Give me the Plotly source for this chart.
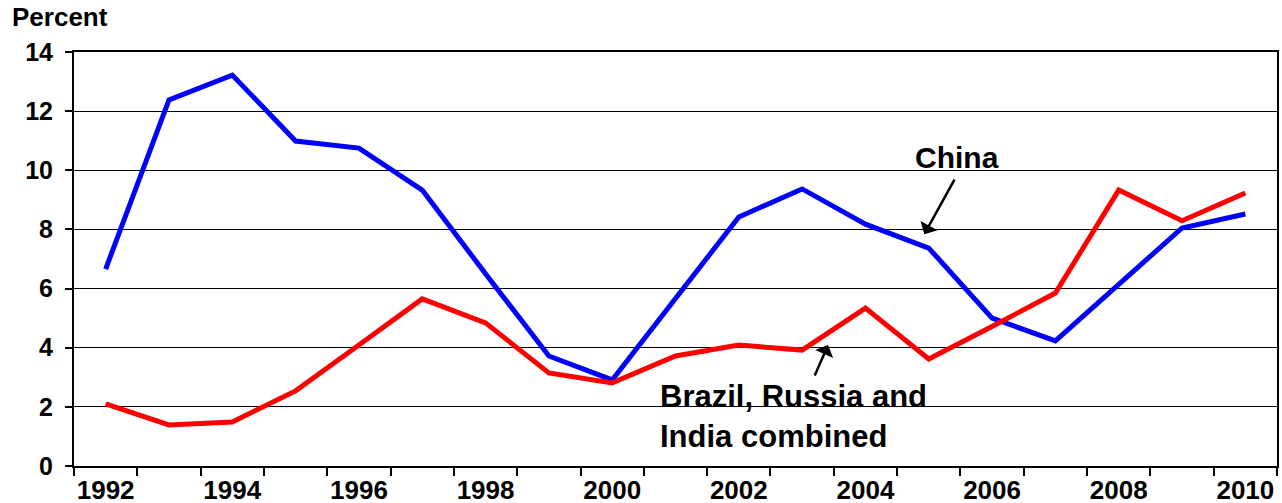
import plotly.graph_objects as go

years = list(range(1992, 2011))
china = [6.66, 12.38, 13.22, 10.99, 10.75, 9.33, 6.5, 3.72, 2.91, 5.66, 8.42, 9.37, 8.18, 7.37, 5.0, 4.23, 6.15, 8.05, 8.52]
bri = [2.10, 1.39, 1.49, 2.54, 4.09, 5.65, 4.84, 3.15, 2.81, 3.72, 4.09, 3.92, 5.34, 3.62, 4.72, 5.85, 9.33, 8.29, 9.23]
xtick_labels = [str(y) for y in range(1992, 2011, 2)]
ytick_vals = list(range(0, 15, 2))

FONT = "Liberation Sans"

fig = go.Figure()
fig.add_trace(go.Scatter(x=years, y=china, mode="lines", line=dict(color="#0000FF", width=5), name="China"))
fig.add_trace(go.Scatter(x=years, y=bri, mode="lines", line=dict(color="#FF0000", width=5), name="Brazil, Russia and India combined"))

fig.update_layout(
    width=1282, height=503,
    margin=dict(l=74, r=5, t=52, b=37),
    plot_bgcolor="white", paper_bgcolor="white",
    showlegend=False,
    font=dict(family=FONT, color="black"),
)
fig.update_xaxes(
    range=[1991.5, 2010.5], automargin=False,
    tickvals=list(range(1992, 2011, 2)), ticktext=xtick_labels,
    ticks="", showgrid=False, zeroline=False,
    showline=True, linecolor="black", linewidth=2, mirror=True,
    tickfont=dict(family=FONT, size=26, color="black", weight="bold"),
    minor=dict(ticks="outside", tick0=1991.5, dtick=1, ticklen=8, tickcolor="black", tickwidth=2, showgrid=False),
)
fig.update_yaxes(
    range=[0, 14], tickvals=ytick_vals, automargin=False,
    ticks="outside", ticklen=7, tickcolor="black", tickwidth=2,
    showgrid=True, gridcolor="black", gridwidth=1, zeroline=False,
    showline=True, linecolor="black", linewidth=2, mirror=True,
    ticklabelstandoff=7,
    tickfont=dict(family=FONT, size=25, color="black", weight="bold"),
)

fig.add_annotation(xref="paper", yref="paper", x=-0.053, y=1.0845, xanchor="left", yanchor="middle",
                   text="<b>Percent</b>", showarrow=False, font=dict(family=FONT, size=26, color="black"))
fig.add_annotation(x=2004.93, y=7.84, ax=31, ay=-56,
                   text="", showarrow=True, arrowhead=1, arrowwidth=2.5, arrowsize=1.3, arrowcolor="black")
fig.add_annotation(x=2005.44, y=10.42, xanchor="center", yanchor="middle", text="<b>China</b>",
                   showarrow=False, font=dict(family=FONT, size=30, color="black"))
fig.add_annotation(x=2003.41, y=4.09, ax=-14, ay=32,
                   text="", showarrow=True, arrowhead=1, arrowwidth=2.5, arrowsize=1.3, arrowcolor="black")
fig.add_annotation(x=2000.72, y=1.69, xanchor="left", yanchor="middle", align="left",
                   text="<b>Brazil, Russia and<br>India combined</b>",
                   showarrow=False, font=dict(family=FONT, size=31, color="black"))

fig.write_html("out.html", config={"displayModeBar": False},
               post_script="document.body.style.margin='0px';document.body.style.overflow='hidden';")
